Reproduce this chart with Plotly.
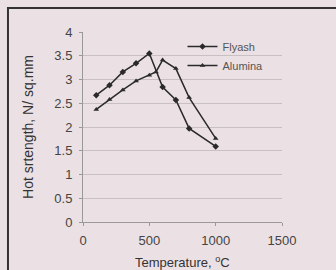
import plotly.graph_objects as go

flyash_temp = [100, 200, 300, 400, 500, 600, 700, 800, 1000]
flyash_strength = [2.67, 2.88, 3.16, 3.34, 3.55, 2.84, 2.57, 1.97, 1.59]

alumina_temp = [100, 200, 300, 400, 500, 550, 600, 700, 800, 1000]
alumina_strength = [2.37, 2.58, 2.78, 2.97, 3.09, 3.16, 3.41, 3.23, 2.62, 1.76]

y_ticks = [0, 0.5, 1, 1.5, 2, 2.5, 3, 3.5, 4]
x_ticks = [0, 500, 1000, 1500]

font = "Liberation Sans, Arial, sans-serif"
ink = "#2a2a2a"
bg = "#ebe0e3"

fig = go.Figure()
fig.add_trace(go.Scatter(
    x=flyash_temp, y=flyash_strength, name="Flyash", mode="lines+markers",
    line=dict(color=ink, width=1.5),
    marker=dict(symbol="diamond", size=5, color=ink)))
fig.add_trace(go.Scatter(
    x=alumina_temp, y=alumina_strength, name="Alumina", mode="lines+markers",
    line=dict(color=ink, width=1.5),
    marker=dict(symbol="triangle-up", size=5, color=ink)))

fig.update_layout(
    width=336, height=270,
    margin=dict(l=83, r=54, t=32, b=48, pad=0),
    paper_bgcolor=bg, plot_bgcolor=bg,
    font=dict(family=font, size=13, color="#444"),
    showlegend=True,
    legend=dict(x=0.5, y=1.0, xanchor="left", yanchor="top",
                bgcolor="rgba(0,0,0,0)", font=dict(size=11, color="#555"),
                itemwidth=30, tracegroupgap=0),
    xaxis=dict(range=[0, 1500], tickvals=x_ticks, showgrid=False,
               automargin=False,
               showline=True, linecolor="#999", ticks="outside", ticklen=3,
               tickcolor="#999", zeroline=False, tickfont=dict(size=13),
               ticklabelstandoff=3),
    yaxis=dict(range=[0, 4], tickvals=y_ticks,
               automargin=False,
               ticktext=["0", "0.5", "1", "1.5", "2", "2.5", "3", "3.5", "4"],
               showgrid=True, gridcolor="#c9c0c3", gridwidth=1,
               showline=True, linecolor="#999", ticks="outside", ticklen=3,
               tickcolor="#999", zeroline=False, tickfont=dict(size=13),
               ticklabelstandoff=4,
               title=dict(text="Hot srtength, N/ sq.mm", standoff=17,
                          font=dict(size=14, color="#333"))),
)

fig.add_annotation(text="Temperature, <sup>o</sup>C", xref="paper", yref="paper",
                   x=0.5, y=-0.21, xanchor="center", yanchor="middle",
                   showarrow=False, borderpad=0,
                   font=dict(family=font, size=13, color="#333"))

fig.add_shape(type="rect", xref="paper", yref="paper",
              x0=-0.377, x1=1.6, y0=-0.6, y1=1.126,
              line=dict(color="#333", width=2), fillcolor="rgba(0,0,0,0)",
              layer="above")

fig.write_html(
    "out.html",
    config={"displayModeBar": False},
    post_script="document.body.style.margin='0';document.body.style.background='%s';" % bg,
)
